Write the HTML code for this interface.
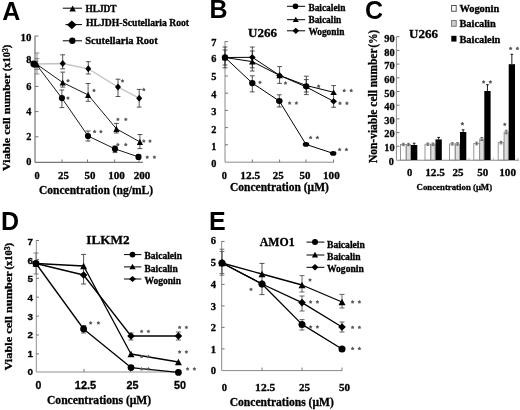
<!DOCTYPE html>
<html><head><meta charset="utf-8"><style>
html,body{margin:0;padding:0;background:#fff;}
svg{display:block;will-change:transform;}
</style></head><body>
<svg width="520" height="410" viewBox="0 0 520 410">
<rect width="520" height="410" fill="#fff"/>
<text x="2.2" y="19.6" font-family='"Liberation Sans", sans-serif' font-size="25" font-weight="bold" text-anchor="start" fill="#000" >A</text>
<line x1="35" y1="35.8" x2="35" y2="162.4" stroke="#767676" stroke-width="1.2"/>
<line x1="35" y1="162.4" x2="143" y2="162.4" stroke="#767676" stroke-width="1.2"/>
<line x1="35" y1="36.0" x2="38.5" y2="36.0" stroke="#767676" stroke-width="1"/>
<line x1="35" y1="61.2" x2="38.5" y2="61.2" stroke="#767676" stroke-width="1"/>
<line x1="35" y1="86.4" x2="38.5" y2="86.4" stroke="#767676" stroke-width="1"/>
<line x1="35" y1="111.6" x2="38.5" y2="111.6" stroke="#767676" stroke-width="1"/>
<line x1="35" y1="136.8" x2="38.5" y2="136.8" stroke="#767676" stroke-width="1"/>
<line x1="62" y1="162.4" x2="62" y2="159.5" stroke="#767676" stroke-width="1"/>
<line x1="87.5" y1="162.4" x2="87.5" y2="159.5" stroke="#767676" stroke-width="1"/>
<line x1="114.6" y1="162.4" x2="114.6" y2="159.5" stroke="#767676" stroke-width="1"/>
<line x1="139" y1="162.4" x2="139" y2="159.5" stroke="#767676" stroke-width="1"/>
<text x="31.5" y="40.8" font-family='"Liberation Serif", serif' font-size="10.3" font-weight="bold" text-anchor="end" fill="#000" stroke="#000" stroke-width="0.3" textLength="10.9" lengthAdjust="spacingAndGlyphs" >10</text>
<text x="31.5" y="63.0" font-family='"Liberation Serif", serif' font-size="10.3" font-weight="bold" text-anchor="end" fill="#000" stroke="#000" stroke-width="0.3" >8</text>
<text x="31.5" y="89.7" font-family='"Liberation Serif", serif' font-size="10.3" font-weight="bold" text-anchor="end" fill="#000" stroke="#000" stroke-width="0.3" >6</text>
<text x="31.5" y="115.3" font-family='"Liberation Serif", serif' font-size="10.3" font-weight="bold" text-anchor="end" fill="#000" stroke="#000" stroke-width="0.3" >4</text>
<text x="31.5" y="140.1" font-family='"Liberation Serif", serif' font-size="10.3" font-weight="bold" text-anchor="end" fill="#000" stroke="#000" stroke-width="0.3" >2</text>
<text x="31.5" y="164.5" font-family='"Liberation Serif", serif' font-size="10.3" font-weight="bold" text-anchor="end" fill="#000" stroke="#000" stroke-width="0.3" >0</text>
<text x="37" y="179" font-family='"Liberation Serif", serif' font-size="10.3" font-weight="bold" text-anchor="middle" fill="#000" stroke="#000" stroke-width="0.3" >0</text>
<text x="63.5" y="179" font-family='"Liberation Serif", serif' font-size="10.3" font-weight="bold" text-anchor="middle" fill="#000" stroke="#000" stroke-width="0.3" textLength="10.9" lengthAdjust="spacingAndGlyphs" >25</text>
<text x="90" y="179" font-family='"Liberation Serif", serif' font-size="10.3" font-weight="bold" text-anchor="middle" fill="#000" stroke="#000" stroke-width="0.3" textLength="10.9" lengthAdjust="spacingAndGlyphs" >50</text>
<text x="116.5" y="179" font-family='"Liberation Serif", serif' font-size="10.3" font-weight="bold" text-anchor="middle" fill="#000" stroke="#000" stroke-width="0.3" textLength="16.65" lengthAdjust="spacingAndGlyphs" >100</text>
<text x="142" y="179" font-family='"Liberation Serif", serif' font-size="10.3" font-weight="bold" text-anchor="middle" fill="#000" stroke="#000" stroke-width="0.3" textLength="16.65" lengthAdjust="spacingAndGlyphs" >200</text>
<text x="39" y="194" font-family='"Liberation Serif", serif' font-size="11.5" font-weight="bold" text-anchor="start" fill="#000" stroke="#000" stroke-width="0.3" >Concentration (ng/mL)</text>
<text x="0" y="0" font-family='"Liberation Serif", serif' font-size="10.2" font-weight="bold" stroke="#000" stroke-width="0.3" textLength="97.5" lengthAdjust="spacingAndGlyphs" transform="translate(9.9 170.9) rotate(-90)">Viable cell number</text>
<text x="0" y="0" font-family='"Liberation Serif", serif' font-size="10.2" font-weight="bold" stroke="#000" stroke-width="0.3" textLength="26.5" lengthAdjust="spacingAndGlyphs" transform="translate(9.9 71.3) rotate(-90)">(x10<tspan font-size="7.4" dy="-2.3">3</tspan><tspan dy="2.3">)</tspan></text>
<line x1="62.8" y1="8.2" x2="82" y2="8.2" stroke="#000" stroke-width="1"/>
<polygon points="69.35,11.6 75.85,11.6 72.6,5.6" fill="#000"/>
<text x="85.4" y="11.5" font-family='"Liberation Serif", serif' font-size="9.4" font-weight="bold" text-anchor="start" fill="#000" stroke="#000" stroke-width="0.3" textLength="31.2" lengthAdjust="spacingAndGlyphs" >HLJDT</text>
<line x1="65.5" y1="24.6" x2="82" y2="24.6" stroke="#000" stroke-width="1"/>
<polygon points="67.0,24.8 71.8,20.4 76.6,24.8 71.8,29.200000000000003" fill="#000"/>
<text x="86" y="26.4" font-family='"Liberation Serif", serif' font-size="9.8" font-weight="bold" text-anchor="start" fill="#000" stroke="#000" stroke-width="0.3" textLength="103" lengthAdjust="spacingAndGlyphs" >HLJDH-Scutellaria Root</text>
<line x1="62.8" y1="40.8" x2="82" y2="40.8" stroke="#000" stroke-width="1"/>
<circle cx="72.3" cy="40.8" r="3.2" fill="#000"/>
<text x="85.2" y="44.2" font-family='"Liberation Serif", serif' font-size="10.5" font-weight="bold" text-anchor="start" fill="#000" stroke="#000" stroke-width="0.3" >Scutellaria Root</text>
<polyline points="37,64 62.7,63.5 88.3,68.8 118,87.1 139.2,98.2" fill="none" stroke="#c4c4c4" stroke-width="1.3" stroke-linejoin="round"/>
<line x1="37" y1="53" x2="37" y2="74" stroke="#777" stroke-width="0.8"/>
<line x1="34.6" y1="53" x2="39.4" y2="53" stroke="#777" stroke-width="0.8"/>
<line x1="34.6" y1="74" x2="39.4" y2="74" stroke="#777" stroke-width="0.8"/>
<line x1="62.7" y1="54.8" x2="62.7" y2="68.8" stroke="#2a2a2a" stroke-width="0.8"/>
<line x1="60.300000000000004" y1="54.8" x2="65.10000000000001" y2="54.8" stroke="#2a2a2a" stroke-width="0.8"/>
<line x1="60.300000000000004" y1="68.8" x2="65.10000000000001" y2="68.8" stroke="#2a2a2a" stroke-width="0.8"/>
<line x1="88.3" y1="61.7" x2="88.3" y2="74" stroke="#2a2a2a" stroke-width="0.8"/>
<line x1="85.89999999999999" y1="61.7" x2="90.7" y2="61.7" stroke="#2a2a2a" stroke-width="0.8"/>
<line x1="85.89999999999999" y1="74" x2="90.7" y2="74" stroke="#2a2a2a" stroke-width="0.8"/>
<line x1="118" y1="79.2" x2="118" y2="96.5" stroke="#2a2a2a" stroke-width="0.8"/>
<line x1="115.6" y1="79.2" x2="120.4" y2="79.2" stroke="#2a2a2a" stroke-width="0.8"/>
<line x1="115.6" y1="96.5" x2="120.4" y2="96.5" stroke="#2a2a2a" stroke-width="0.8"/>
<line x1="139.2" y1="89.4" x2="139.2" y2="107.1" stroke="#2a2a2a" stroke-width="0.8"/>
<line x1="136.79999999999998" y1="89.4" x2="141.6" y2="89.4" stroke="#2a2a2a" stroke-width="0.8"/>
<line x1="136.79999999999998" y1="107.1" x2="141.6" y2="107.1" stroke="#2a2a2a" stroke-width="0.8"/>
<polygon points="59.7,63.5 62.7,60.0 65.7,63.5 62.7,67.0" fill="#000"/>
<polygon points="85.3,68.8 88.3,65.3 91.3,68.8 88.3,72.3" fill="#000"/>
<polygon points="115.0,87.1 118,83.6 121.0,87.1 118,90.6" fill="#000"/>
<polygon points="136.2,98.2 139.2,94.7 142.2,98.2 139.2,101.7" fill="#000"/>
<polyline points="37,64.5 62.7,82.5 88.1,94.9 116.4,128.8 139.9,141.9" fill="none" stroke="#000" stroke-width="0.9" stroke-linejoin="round"/>
<line x1="37" y1="58.5" x2="37" y2="69.5" stroke="#777" stroke-width="0.8"/>
<line x1="34.6" y1="58.5" x2="39.4" y2="58.5" stroke="#777" stroke-width="0.8"/>
<line x1="34.6" y1="69.5" x2="39.4" y2="69.5" stroke="#777" stroke-width="0.8"/>
<line x1="62.7" y1="72.1" x2="62.7" y2="87.1" stroke="#2a2a2a" stroke-width="0.8"/>
<line x1="60.300000000000004" y1="72.1" x2="65.10000000000001" y2="72.1" stroke="#2a2a2a" stroke-width="0.8"/>
<line x1="60.300000000000004" y1="87.1" x2="65.10000000000001" y2="87.1" stroke="#2a2a2a" stroke-width="0.8"/>
<line x1="88.1" y1="83.5" x2="88.1" y2="101.3" stroke="#2a2a2a" stroke-width="0.8"/>
<line x1="85.69999999999999" y1="83.5" x2="90.5" y2="83.5" stroke="#2a2a2a" stroke-width="0.8"/>
<line x1="85.69999999999999" y1="101.3" x2="90.5" y2="101.3" stroke="#2a2a2a" stroke-width="0.8"/>
<line x1="116.4" y1="123.4" x2="116.4" y2="133" stroke="#2a2a2a" stroke-width="0.8"/>
<line x1="114.0" y1="123.4" x2="118.80000000000001" y2="123.4" stroke="#2a2a2a" stroke-width="0.8"/>
<line x1="114.0" y1="133" x2="118.80000000000001" y2="133" stroke="#2a2a2a" stroke-width="0.8"/>
<line x1="139.9" y1="134.5" x2="139.9" y2="148.6" stroke="#2a2a2a" stroke-width="0.8"/>
<line x1="137.5" y1="134.5" x2="142.3" y2="134.5" stroke="#2a2a2a" stroke-width="0.8"/>
<line x1="137.5" y1="148.6" x2="142.3" y2="148.6" stroke="#2a2a2a" stroke-width="0.8"/>
<polygon points="33.9,67.6 40.1,67.6 37,61.4" fill="#000"/>
<polygon points="59.6,85.6 65.8,85.6 62.7,79.4" fill="#000"/>
<polygon points="85.0,98.0 91.19999999999999,98.0 88.1,91.80000000000001" fill="#000"/>
<polygon points="113.30000000000001,131.9 119.5,131.9 116.4,125.70000000000002" fill="#000"/>
<polygon points="136.8,145.0 143.0,145.0 139.9,138.8" fill="#000"/>
<polyline points="36,64 61.9,98.1 88,136 115,148.9 138.5,156.9" fill="none" stroke="#000" stroke-width="0.9" stroke-linejoin="round"/>
<line x1="61.9" y1="90" x2="61.9" y2="107.6" stroke="#2a2a2a" stroke-width="0.8"/>
<line x1="59.5" y1="90" x2="64.3" y2="90" stroke="#2a2a2a" stroke-width="0.8"/>
<line x1="59.5" y1="107.6" x2="64.3" y2="107.6" stroke="#2a2a2a" stroke-width="0.8"/>
<line x1="88" y1="131" x2="88" y2="141" stroke="#2a2a2a" stroke-width="0.8"/>
<line x1="85.6" y1="131" x2="90.4" y2="131" stroke="#2a2a2a" stroke-width="0.8"/>
<line x1="85.6" y1="141" x2="90.4" y2="141" stroke="#2a2a2a" stroke-width="0.8"/>
<line x1="115" y1="146" x2="115" y2="152.6" stroke="#2a2a2a" stroke-width="0.8"/>
<line x1="112.6" y1="146" x2="117.4" y2="146" stroke="#2a2a2a" stroke-width="0.8"/>
<line x1="112.6" y1="152.6" x2="117.4" y2="152.6" stroke="#2a2a2a" stroke-width="0.8"/>
<line x1="138.5" y1="155" x2="138.5" y2="159" stroke="#2a2a2a" stroke-width="0.8"/>
<line x1="136.1" y1="155" x2="140.9" y2="155" stroke="#2a2a2a" stroke-width="0.8"/>
<line x1="136.1" y1="159" x2="140.9" y2="159" stroke="#2a2a2a" stroke-width="0.8"/>
<circle cx="33.8" cy="64" r="3.4" fill="#000"/>
<circle cx="61.9" cy="98.1" r="3.1" fill="#000"/>
<circle cx="88" cy="136" r="3.1" fill="#000"/>
<circle cx="115" cy="148.9" r="3.1" fill="#000"/>
<circle cx="138.5" cy="156.9" r="3.1" fill="#000"/>
<polygon points="122.50,79.00 123.21,80.03 124.40,80.38 123.64,81.37 123.68,82.62 122.50,82.20 121.32,82.62 121.36,81.37 120.60,80.38 121.79,80.03" fill="#5a5a5a"/>
<polygon points="143.80,87.60 144.51,88.63 145.70,88.98 144.94,89.97 144.98,91.22 143.80,90.80 142.62,91.22 142.66,89.97 141.90,88.98 143.09,88.63" fill="#5a5a5a"/>
<polygon points="68.00,78.70 68.71,79.73 69.90,80.08 69.14,81.07 69.18,82.32 68.00,81.90 66.82,82.32 66.86,81.07 66.10,80.08 67.29,79.73" fill="#5a5a5a"/>
<polygon points="94.00,88.50 94.71,89.53 95.90,89.88 95.14,90.87 95.18,92.12 94.00,91.70 92.82,92.12 92.86,90.87 92.10,89.88 93.29,89.53" fill="#5a5a5a"/>
<polygon points="117.90,117.40 118.61,118.43 119.80,118.78 119.04,119.77 119.08,121.02 117.90,120.60 116.72,121.02 116.76,119.77 116.00,118.78 117.19,118.43" fill="#5a5a5a"/>
<polygon points="125.80,117.40 126.51,118.43 127.70,118.78 126.94,119.77 126.98,121.02 125.80,120.60 124.62,121.02 124.66,119.77 123.90,118.78 125.09,118.43" fill="#5a5a5a"/>
<polygon points="143.80,139.10 144.51,140.13 145.70,140.48 144.94,141.47 144.98,142.72 143.80,142.30 142.62,142.72 142.66,141.47 141.90,140.48 143.09,140.13" fill="#5a5a5a"/>
<polygon points="150.00,139.10 150.71,140.13 151.90,140.48 151.14,141.47 151.18,142.72 150.00,142.30 148.82,142.72 148.86,141.47 148.10,140.48 149.29,140.13" fill="#5a5a5a"/>
<polygon points="68.00,96.10 68.71,97.13 69.90,97.48 69.14,98.47 69.18,99.72 68.00,99.30 66.82,99.72 66.86,98.47 66.10,97.48 67.29,97.13" fill="#5a5a5a"/>
<polygon points="94.60,129.60 95.31,130.63 96.50,130.98 95.74,131.97 95.78,133.22 94.60,132.80 93.42,133.22 93.46,131.97 92.70,130.98 93.89,130.63" fill="#5a5a5a"/>
<polygon points="100.90,129.60 101.61,130.63 102.80,130.98 102.04,131.97 102.08,133.22 100.90,132.80 99.72,133.22 99.76,131.97 99.00,130.98 100.19,130.63" fill="#5a5a5a"/>
<polygon points="117.90,142.60 118.61,143.63 119.80,143.98 119.04,144.97 119.08,146.22 117.90,145.80 116.72,146.22 116.76,144.97 116.00,143.98 117.19,143.63" fill="#5a5a5a"/>
<polygon points="125.80,142.60 126.51,143.63 127.70,143.98 126.94,144.97 126.98,146.22 125.80,145.80 124.62,146.22 124.66,144.97 123.90,143.98 125.09,143.63" fill="#5a5a5a"/>
<polygon points="147.20,155.20 147.91,156.23 149.10,156.58 148.34,157.57 148.38,158.82 147.20,158.40 146.02,158.82 146.06,157.57 145.30,156.58 146.49,156.23" fill="#5a5a5a"/>
<polygon points="154.40,155.20 155.11,156.23 156.30,156.58 155.54,157.57 155.58,158.82 154.40,158.40 153.22,158.82 153.26,157.57 152.50,156.58 153.69,156.23" fill="#5a5a5a"/>
<text x="209.5" y="18.4" font-family='"Liberation Sans", sans-serif' font-size="25" font-weight="bold" text-anchor="start" fill="#000" >B</text>
<text x="248" y="37.3" font-family='"Liberation Serif", serif' font-size="13" font-weight="bold" text-anchor="start" fill="#000" stroke="#000" stroke-width="0.3" >U266</text>
<line x1="225" y1="41" x2="225" y2="162.2" stroke="#8a8a8a" stroke-width="1.0"/>
<line x1="225" y1="162.2" x2="334" y2="162.2" stroke="#8a8a8a" stroke-width="1.0"/>
<line x1="225" y1="144.8" x2="228" y2="144.8" stroke="#767676" stroke-width="1"/>
<line x1="225" y1="127.6" x2="228" y2="127.6" stroke="#767676" stroke-width="1"/>
<line x1="225" y1="110.4" x2="228" y2="110.4" stroke="#767676" stroke-width="1"/>
<line x1="225" y1="93.2" x2="228" y2="93.2" stroke="#767676" stroke-width="1"/>
<line x1="225" y1="76.0" x2="228" y2="76.0" stroke="#767676" stroke-width="1"/>
<line x1="225" y1="58.80000000000001" x2="228" y2="58.80000000000001" stroke="#767676" stroke-width="1"/>
<line x1="225" y1="41.60000000000001" x2="228" y2="41.60000000000001" stroke="#767676" stroke-width="1"/>
<line x1="252.4" y1="162.2" x2="252.4" y2="159.5" stroke="#767676" stroke-width="1"/>
<line x1="279.6" y1="162.2" x2="279.6" y2="159.5" stroke="#767676" stroke-width="1"/>
<line x1="306" y1="162.2" x2="306" y2="159.5" stroke="#767676" stroke-width="1"/>
<line x1="333.6" y1="162.2" x2="333.6" y2="159.5" stroke="#767676" stroke-width="1"/>
<text x="216.3" y="45.5" font-family='"Liberation Serif", serif' font-size="10.3" font-weight="bold" text-anchor="end" fill="#000" stroke="#000" stroke-width="0.3" >7</text>
<text x="216.3" y="62.2" font-family='"Liberation Serif", serif' font-size="10.3" font-weight="bold" text-anchor="end" fill="#000" stroke="#000" stroke-width="0.3" >6</text>
<text x="216.3" y="80.0" font-family='"Liberation Serif", serif' font-size="10.3" font-weight="bold" text-anchor="end" fill="#000" stroke="#000" stroke-width="0.3" >5</text>
<text x="216.3" y="97.5" font-family='"Liberation Serif", serif' font-size="10.3" font-weight="bold" text-anchor="end" fill="#000" stroke="#000" stroke-width="0.3" >4</text>
<text x="216.3" y="115.0" font-family='"Liberation Serif", serif' font-size="10.3" font-weight="bold" text-anchor="end" fill="#000" stroke="#000" stroke-width="0.3" >3</text>
<text x="216.3" y="133.0" font-family='"Liberation Serif", serif' font-size="10.3" font-weight="bold" text-anchor="end" fill="#000" stroke="#000" stroke-width="0.3" >2</text>
<text x="216.3" y="150.0" font-family='"Liberation Serif", serif' font-size="10.3" font-weight="bold" text-anchor="end" fill="#000" stroke="#000" stroke-width="0.3" >1</text>
<text x="216.3" y="167.0" font-family='"Liberation Serif", serif' font-size="10.3" font-weight="bold" text-anchor="end" fill="#000" stroke="#000" stroke-width="0.3" >0</text>
<text x="224.4" y="178.6" font-family='"Liberation Serif", serif' font-size="10.3" font-weight="bold" text-anchor="middle" fill="#000" stroke="#000" stroke-width="0.3" >0</text>
<text x="250.3" y="178.6" font-family='"Liberation Serif", serif' font-size="10.3" font-weight="bold" text-anchor="middle" fill="#000" stroke="#000" stroke-width="0.3" textLength="19.83" lengthAdjust="spacingAndGlyphs" >12.5</text>
<text x="278.3" y="178.6" font-family='"Liberation Serif", serif' font-size="10.3" font-weight="bold" text-anchor="middle" fill="#000" stroke="#000" stroke-width="0.3" textLength="10.9" lengthAdjust="spacingAndGlyphs" >25</text>
<text x="304.9" y="178.6" font-family='"Liberation Serif", serif' font-size="10.3" font-weight="bold" text-anchor="middle" fill="#000" stroke="#000" stroke-width="0.3" textLength="10.9" lengthAdjust="spacingAndGlyphs" >50</text>
<text x="331.4" y="178.6" font-family='"Liberation Serif", serif' font-size="10.3" font-weight="bold" text-anchor="middle" fill="#000" stroke="#000" stroke-width="0.3" textLength="16.65" lengthAdjust="spacingAndGlyphs" >100</text>
<text x="230" y="191.3" font-family='"Liberation Serif", serif' font-size="11.5" font-weight="bold" text-anchor="start" fill="#000" stroke="#000" stroke-width="0.3" >Concentration (μM)</text>
<line x1="287" y1="6.3" x2="305.2" y2="6.3" stroke="#000" stroke-width="1"/>
<circle cx="295.5" cy="6.3" r="2.8" fill="#000"/>
<text x="308.4" y="10.8" font-family='"Liberation Serif", serif' font-size="9.4" font-weight="bold" text-anchor="start" fill="#000" stroke="#000" stroke-width="0.3" >Baicalein</text>
<line x1="287" y1="19.7" x2="305.2" y2="19.7" stroke="#000" stroke-width="1"/>
<polygon points="292.8,22.049999999999997 298.8,22.049999999999997 295.8,16.75" fill="#000"/>
<text x="308.4" y="23.3" font-family='"Liberation Serif", serif' font-size="9.4" font-weight="bold" text-anchor="start" fill="#000" stroke="#000" stroke-width="0.3" >Baicalin</text>
<line x1="287" y1="30.8" x2="305.2" y2="30.8" stroke="#000" stroke-width="1"/>
<polygon points="292.5,30.8 295.8,27.7 299.1,30.8 295.8,33.9" fill="#000"/>
<text x="308.4" y="34.8" font-family='"Liberation Serif", serif' font-size="9.4" font-weight="bold" text-anchor="start" fill="#000" stroke="#000" stroke-width="0.3" >Wogonin</text>
<polyline points="225,57.5 252.3,57.3 279.6,75.4 306.3,87 333.6,101.3" fill="none" stroke="#000" stroke-width="1.0" stroke-linejoin="round"/>
<polyline points="225,57.5 252.3,61.6 279.6,75.4 306.3,85.5 333.6,92.3" fill="none" stroke="#000" stroke-width="1.0" stroke-linejoin="round"/>
<polyline points="225,57.5 252.3,83.1 279.3,101 306,144.4 333.2,153.4" fill="none" stroke="#000" stroke-width="1.0" stroke-linejoin="round"/>
<line x1="225" y1="47" x2="225" y2="67.8" stroke="#2a2a2a" stroke-width="0.8"/>
<line x1="222.6" y1="47" x2="227.4" y2="47" stroke="#2a2a2a" stroke-width="0.8"/>
<line x1="222.6" y1="67.8" x2="227.4" y2="67.8" stroke="#2a2a2a" stroke-width="0.8"/>
<line x1="225" y1="50" x2="225" y2="65" stroke="#2a2a2a" stroke-width="0.8"/>
<line x1="222.6" y1="50" x2="227.4" y2="50" stroke="#2a2a2a" stroke-width="0.8"/>
<line x1="222.6" y1="65" x2="227.4" y2="65" stroke="#2a2a2a" stroke-width="0.8"/>
<line x1="252.3" y1="47" x2="252.3" y2="67.8" stroke="#2a2a2a" stroke-width="0.8"/>
<line x1="249.9" y1="47" x2="254.70000000000002" y2="47" stroke="#2a2a2a" stroke-width="0.8"/>
<line x1="249.9" y1="67.8" x2="254.70000000000002" y2="67.8" stroke="#2a2a2a" stroke-width="0.8"/>
<line x1="252.3" y1="51" x2="252.3" y2="71" stroke="#2a2a2a" stroke-width="0.8"/>
<line x1="249.9" y1="51" x2="254.70000000000002" y2="51" stroke="#2a2a2a" stroke-width="0.8"/>
<line x1="249.9" y1="71" x2="254.70000000000002" y2="71" stroke="#2a2a2a" stroke-width="0.8"/>
<line x1="252.3" y1="75.8" x2="252.3" y2="91.9" stroke="#2a2a2a" stroke-width="0.8"/>
<line x1="249.9" y1="75.8" x2="254.70000000000002" y2="75.8" stroke="#2a2a2a" stroke-width="0.8"/>
<line x1="249.9" y1="91.9" x2="254.70000000000002" y2="91.9" stroke="#2a2a2a" stroke-width="0.8"/>
<line x1="279.6" y1="66.6" x2="279.6" y2="83.4" stroke="#2a2a2a" stroke-width="0.8"/>
<line x1="277.20000000000005" y1="66.6" x2="282.0" y2="66.6" stroke="#2a2a2a" stroke-width="0.8"/>
<line x1="277.20000000000005" y1="83.4" x2="282.0" y2="83.4" stroke="#2a2a2a" stroke-width="0.8"/>
<line x1="279.3" y1="94.8" x2="279.3" y2="107" stroke="#2a2a2a" stroke-width="0.8"/>
<line x1="276.90000000000003" y1="94.8" x2="281.7" y2="94.8" stroke="#2a2a2a" stroke-width="0.8"/>
<line x1="276.90000000000003" y1="107" x2="281.7" y2="107" stroke="#2a2a2a" stroke-width="0.8"/>
<line x1="306.3" y1="76.2" x2="306.3" y2="94.6" stroke="#2a2a2a" stroke-width="0.8"/>
<line x1="303.90000000000003" y1="76.2" x2="308.7" y2="76.2" stroke="#2a2a2a" stroke-width="0.8"/>
<line x1="303.90000000000003" y1="94.6" x2="308.7" y2="94.6" stroke="#2a2a2a" stroke-width="0.8"/>
<line x1="306.3" y1="79.6" x2="306.3" y2="92" stroke="#2a2a2a" stroke-width="0.8"/>
<line x1="303.90000000000003" y1="79.6" x2="308.7" y2="79.6" stroke="#2a2a2a" stroke-width="0.8"/>
<line x1="303.90000000000003" y1="92" x2="308.7" y2="92" stroke="#2a2a2a" stroke-width="0.8"/>
<line x1="333.6" y1="85.6" x2="333.6" y2="107.3" stroke="#2a2a2a" stroke-width="0.8"/>
<line x1="331.20000000000005" y1="85.6" x2="336.0" y2="85.6" stroke="#2a2a2a" stroke-width="0.8"/>
<line x1="331.20000000000005" y1="107.3" x2="336.0" y2="107.3" stroke="#2a2a2a" stroke-width="0.8"/>
<polygon points="221.6,57.5 225,54.4 228.4,57.5 225,60.6" fill="#000"/>
<polygon points="248.9,57.3 252.3,54.199999999999996 255.70000000000002,57.3 252.3,60.4" fill="#000"/>
<polygon points="276.20000000000005,75.4 279.6,72.30000000000001 283.0,75.4 279.6,78.5" fill="#000"/>
<polygon points="302.90000000000003,87 306.3,83.9 309.7,87 306.3,90.1" fill="#000"/>
<polygon points="330.20000000000005,101.3 333.6,98.2 337.0,101.3 333.6,104.39999999999999" fill="#000"/>
<polygon points="221.7,60.3 228.3,60.3 225,54.7" fill="#000"/>
<polygon points="249.0,64.4 255.60000000000002,64.4 252.3,58.800000000000004" fill="#000"/>
<polygon points="276.3,78.2 282.90000000000003,78.2 279.6,72.60000000000001" fill="#000"/>
<polygon points="303.0,88.3 309.6,88.3 306.3,82.7" fill="#000"/>
<polygon points="330.3,95.1 336.90000000000003,95.1 333.6,89.5" fill="#000"/>
<circle cx="225" cy="57.5" r="3.2" fill="#000"/>
<circle cx="252.3" cy="83.1" r="3.2" fill="#000"/>
<ellipse cx="279.3" cy="101" rx="3.3" ry="2.9" fill="#000"/>
<ellipse cx="306" cy="144.4" rx="3.2" ry="2.4" fill="#000"/>
<ellipse cx="333.2" cy="153.4" rx="3.2" ry="2.4" fill="#000"/>
<circle cx="306.3" cy="86.3" r="3.0" fill="#000"/>
<polygon points="260.00,80.40 260.71,81.43 261.90,81.78 261.14,82.77 261.18,84.02 260.00,83.60 258.82,84.02 258.86,82.77 258.10,81.78 259.29,81.43" fill="#5a5a5a"/>
<polygon points="289.60,101.10 290.31,102.13 291.50,102.48 290.74,103.47 290.78,104.72 289.60,104.30 288.42,104.72 288.46,103.47 287.70,102.48 288.89,102.13" fill="#5a5a5a"/>
<polygon points="296.40,101.10 297.11,102.13 298.30,102.48 297.54,103.47 297.58,104.72 296.40,104.30 295.22,104.72 295.26,103.47 294.50,102.48 295.69,102.13" fill="#5a5a5a"/>
<polygon points="310.60,135.60 311.31,136.63 312.50,136.98 311.74,137.97 311.78,139.22 310.60,138.80 309.42,139.22 309.46,137.97 308.70,136.98 309.89,136.63" fill="#5a5a5a"/>
<polygon points="317.40,135.60 318.11,136.63 319.30,136.98 318.54,137.97 318.58,139.22 317.40,138.80 316.22,139.22 316.26,137.97 315.50,136.98 316.69,136.63" fill="#5a5a5a"/>
<polygon points="339.60,147.60 340.31,148.63 341.50,148.98 340.74,149.97 340.78,151.22 339.60,150.80 338.42,151.22 338.46,149.97 337.70,148.98 338.89,148.63" fill="#5a5a5a"/>
<polygon points="346.40,147.60 347.11,148.63 348.30,148.98 347.54,149.97 347.58,151.22 346.40,150.80 345.22,151.22 345.26,149.97 344.50,148.98 345.69,148.63" fill="#5a5a5a"/>
<polygon points="285.50,81.10 286.21,82.13 287.40,82.48 286.64,83.47 286.68,84.72 285.50,84.30 284.32,84.72 284.36,83.47 283.60,82.48 284.79,82.13" fill="#5a5a5a"/>
<polygon points="318.60,84.30 319.31,85.33 320.50,85.68 319.74,86.67 319.78,87.92 318.60,87.50 317.42,87.92 317.46,86.67 316.70,85.68 317.89,85.33" fill="#5a5a5a"/>
<polygon points="344.20,88.60 344.91,89.63 346.10,89.98 345.34,90.97 345.38,92.22 344.20,91.80 343.02,92.22 343.06,90.97 342.30,89.98 343.49,89.63" fill="#5a5a5a"/>
<polygon points="351.20,88.60 351.91,89.63 353.10,89.98 352.34,90.97 352.38,92.22 351.20,91.80 350.02,92.22 350.06,90.97 349.30,89.98 350.49,89.63" fill="#5a5a5a"/>
<polygon points="340.00,101.30 340.71,102.33 341.90,102.68 341.14,103.67 341.18,104.92 340.00,104.50 338.82,104.92 338.86,103.67 338.10,102.68 339.29,102.33" fill="#5a5a5a"/>
<polygon points="346.90,101.30 347.61,102.33 348.80,102.68 348.04,103.67 348.08,104.92 346.90,104.50 345.72,104.92 345.76,103.67 345.00,102.68 346.19,102.33" fill="#5a5a5a"/>
<text x="365" y="18.7" font-family='"Liberation Sans", sans-serif' font-size="25" font-weight="bold" text-anchor="start" fill="#000" >C</text>
<text x="409" y="38.3" font-family='"Liberation Serif", serif' font-size="13" font-weight="bold" text-anchor="start" fill="#000" stroke="#000" stroke-width="0.3" >U266</text>
<line x1="396.4" y1="36.6" x2="396.4" y2="160.2" stroke="#8a8a8a" stroke-width="1.0"/>
<line x1="396.5" y1="160.2" x2="519" y2="160.2" stroke="#8c8c8c" stroke-width="1.1"/>
<line x1="396.5" y1="146.3" x2="399.5" y2="146.3" stroke="#767676" stroke-width="1"/>
<line x1="396.5" y1="132.6" x2="399.5" y2="132.6" stroke="#767676" stroke-width="1"/>
<line x1="396.5" y1="118.9" x2="399.5" y2="118.9" stroke="#767676" stroke-width="1"/>
<line x1="396.5" y1="105.19999999999999" x2="399.5" y2="105.19999999999999" stroke="#767676" stroke-width="1"/>
<line x1="396.5" y1="91.5" x2="399.5" y2="91.5" stroke="#767676" stroke-width="1"/>
<line x1="396.5" y1="77.8" x2="399.5" y2="77.8" stroke="#767676" stroke-width="1"/>
<line x1="396.5" y1="64.1" x2="399.5" y2="64.1" stroke="#767676" stroke-width="1"/>
<line x1="396.5" y1="50.39999999999999" x2="399.5" y2="50.39999999999999" stroke="#767676" stroke-width="1"/>
<line x1="396.5" y1="36.69999999999999" x2="399.5" y2="36.69999999999999" stroke="#767676" stroke-width="1"/>
<text x="394.6" y="42.099999999999994" font-family='"Liberation Serif", serif' font-size="10.2" font-weight="bold" text-anchor="end" fill="#000" stroke="#000" stroke-width="0.3" textLength="10.4" lengthAdjust="spacingAndGlyphs" >90</text>
<text x="394.6" y="55.69999999999999" font-family='"Liberation Serif", serif' font-size="10.2" font-weight="bold" text-anchor="end" fill="#000" stroke="#000" stroke-width="0.3" textLength="10.4" lengthAdjust="spacingAndGlyphs" >80</text>
<text x="394.6" y="69.3" font-family='"Liberation Serif", serif' font-size="10.2" font-weight="bold" text-anchor="end" fill="#000" stroke="#000" stroke-width="0.3" textLength="10.4" lengthAdjust="spacingAndGlyphs" >70</text>
<text x="394.6" y="82.89999999999999" font-family='"Liberation Serif", serif' font-size="10.2" font-weight="bold" text-anchor="end" fill="#000" stroke="#000" stroke-width="0.3" textLength="10.4" lengthAdjust="spacingAndGlyphs" >60</text>
<text x="394.6" y="96.5" font-family='"Liberation Serif", serif' font-size="10.2" font-weight="bold" text-anchor="end" fill="#000" stroke="#000" stroke-width="0.3" textLength="10.4" lengthAdjust="spacingAndGlyphs" >50</text>
<text x="394.6" y="110.1" font-family='"Liberation Serif", serif' font-size="10.2" font-weight="bold" text-anchor="end" fill="#000" stroke="#000" stroke-width="0.3" textLength="10.4" lengthAdjust="spacingAndGlyphs" >40</text>
<text x="394.6" y="123.69999999999999" font-family='"Liberation Serif", serif' font-size="10.2" font-weight="bold" text-anchor="end" fill="#000" stroke="#000" stroke-width="0.3" textLength="10.4" lengthAdjust="spacingAndGlyphs" >30</text>
<text x="394.6" y="137.3" font-family='"Liberation Serif", serif' font-size="10.2" font-weight="bold" text-anchor="end" fill="#000" stroke="#000" stroke-width="0.3" textLength="10.4" lengthAdjust="spacingAndGlyphs" >20</text>
<text x="394.6" y="150.9" font-family='"Liberation Serif", serif' font-size="10.2" font-weight="bold" text-anchor="end" fill="#000" stroke="#000" stroke-width="0.3" textLength="10.4" lengthAdjust="spacingAndGlyphs" >10</text>
<text x="393.8" y="164.5" font-family='"Liberation Serif", serif' font-size="10.2" font-weight="bold" text-anchor="end" fill="#000" stroke="#000" stroke-width="0.3" >0</text>
<line x1="469" y1="160.2" x2="469" y2="158" stroke="#aaa" stroke-width="0.8"/>
<line x1="493.4" y1="160.2" x2="493.4" y2="158" stroke="#aaa" stroke-width="0.8"/>
<line x1="518" y1="160.2" x2="518" y2="158" stroke="#aaa" stroke-width="0.8"/>
<rect x="400.5" y="144.5" width="5.6" height="15.5" fill="#fff" stroke="#8c8c8c" stroke-width="0.9"/>
<rect x="406.4" y="144.5" width="4.2" height="15.5" fill="#dedede" stroke="#8c8c8c" stroke-width="0.9"/>
<rect x="411" y="145" width="6.3" height="15" fill="#000"/>
<line x1="403.3" y1="143.3" x2="403.3" y2="145.7" stroke="#505050" stroke-width="0.8"/>
<line x1="401.90000000000003" y1="143.3" x2="404.7" y2="143.3" stroke="#505050" stroke-width="0.8"/>
<line x1="401.90000000000003" y1="145.7" x2="404.7" y2="145.7" stroke="#505050" stroke-width="0.8"/>
<line x1="408.5" y1="143.3" x2="408.5" y2="145.7" stroke="#505050" stroke-width="0.8"/>
<line x1="407.1" y1="143.3" x2="409.9" y2="143.3" stroke="#505050" stroke-width="0.8"/>
<line x1="407.1" y1="145.7" x2="409.9" y2="145.7" stroke="#505050" stroke-width="0.8"/>
<line x1="414.15" y1="143.2" x2="414.15" y2="145" stroke="#000" stroke-width="0.9"/>
<line x1="412.8" y1="143.2" x2="415.5" y2="143.2" stroke="#000" stroke-width="0.9"/>
<rect x="425.0" y="144.2" width="5.6" height="15.800000000000011" fill="#fff" stroke="#8c8c8c" stroke-width="0.9"/>
<rect x="430.9" y="144.2" width="4.2" height="15.800000000000011" fill="#dedede" stroke="#8c8c8c" stroke-width="0.9"/>
<rect x="435.5" y="139.4" width="6.3" height="20.599999999999994" fill="#000"/>
<line x1="427.8" y1="143.0" x2="427.8" y2="145.39999999999998" stroke="#505050" stroke-width="0.8"/>
<line x1="426.40000000000003" y1="143.0" x2="429.2" y2="143.0" stroke="#505050" stroke-width="0.8"/>
<line x1="426.40000000000003" y1="145.39999999999998" x2="429.2" y2="145.39999999999998" stroke="#505050" stroke-width="0.8"/>
<line x1="433.0" y1="143.0" x2="433.0" y2="145.39999999999998" stroke="#505050" stroke-width="0.8"/>
<line x1="431.6" y1="143.0" x2="434.4" y2="143.0" stroke="#505050" stroke-width="0.8"/>
<line x1="431.6" y1="145.39999999999998" x2="434.4" y2="145.39999999999998" stroke="#505050" stroke-width="0.8"/>
<line x1="438.65" y1="137.4" x2="438.65" y2="139.4" stroke="#000" stroke-width="0.9"/>
<line x1="437.3" y1="137.4" x2="440.0" y2="137.4" stroke="#000" stroke-width="0.9"/>
<rect x="449.5" y="143.9" width="5.6" height="16.099999999999994" fill="#fff" stroke="#8c8c8c" stroke-width="0.9"/>
<rect x="455.4" y="143.9" width="4.2" height="16.099999999999994" fill="#dedede" stroke="#8c8c8c" stroke-width="0.9"/>
<rect x="460" y="132" width="6.3" height="28" fill="#000"/>
<line x1="452.3" y1="142.70000000000002" x2="452.3" y2="145.1" stroke="#505050" stroke-width="0.8"/>
<line x1="450.90000000000003" y1="142.70000000000002" x2="453.7" y2="142.70000000000002" stroke="#505050" stroke-width="0.8"/>
<line x1="450.90000000000003" y1="145.1" x2="453.7" y2="145.1" stroke="#505050" stroke-width="0.8"/>
<line x1="457.5" y1="142.70000000000002" x2="457.5" y2="145.1" stroke="#505050" stroke-width="0.8"/>
<line x1="456.1" y1="142.70000000000002" x2="458.9" y2="142.70000000000002" stroke="#505050" stroke-width="0.8"/>
<line x1="456.1" y1="145.1" x2="458.9" y2="145.1" stroke="#505050" stroke-width="0.8"/>
<line x1="463.15" y1="129.8" x2="463.15" y2="132" stroke="#000" stroke-width="0.9"/>
<line x1="461.8" y1="129.8" x2="464.5" y2="129.8" stroke="#000" stroke-width="0.9"/>
<rect x="473.8" y="143.5" width="5.6" height="16.5" fill="#fff" stroke="#8c8c8c" stroke-width="0.9"/>
<rect x="479.7" y="139" width="4.2" height="21" fill="#dedede" stroke="#8c8c8c" stroke-width="0.9"/>
<rect x="484.3" y="91" width="6.3" height="69" fill="#000"/>
<line x1="476.6" y1="142.2" x2="476.6" y2="144.8" stroke="#505050" stroke-width="0.8"/>
<line x1="475.20000000000005" y1="142.2" x2="478.0" y2="142.2" stroke="#505050" stroke-width="0.8"/>
<line x1="475.20000000000005" y1="144.8" x2="478.0" y2="144.8" stroke="#505050" stroke-width="0.8"/>
<line x1="481.8" y1="137.5" x2="481.8" y2="140.5" stroke="#505050" stroke-width="0.8"/>
<line x1="480.40000000000003" y1="137.5" x2="483.2" y2="137.5" stroke="#505050" stroke-width="0.8"/>
<line x1="480.40000000000003" y1="140.5" x2="483.2" y2="140.5" stroke="#505050" stroke-width="0.8"/>
<line x1="487.45" y1="84.7" x2="487.45" y2="91" stroke="#000" stroke-width="0.9"/>
<line x1="486.1" y1="84.7" x2="488.8" y2="84.7" stroke="#000" stroke-width="0.9"/>
<rect x="498.2" y="142.6" width="5.6" height="17.400000000000006" fill="#fff" stroke="#8c8c8c" stroke-width="0.9"/>
<rect x="504.09999999999997" y="132" width="4.2" height="28" fill="#dedede" stroke="#8c8c8c" stroke-width="0.9"/>
<rect x="508.7" y="64.2" width="6.3" height="95.8" fill="#000"/>
<line x1="501.0" y1="141.29999999999998" x2="501.0" y2="143.9" stroke="#505050" stroke-width="0.8"/>
<line x1="499.6" y1="141.29999999999998" x2="502.4" y2="141.29999999999998" stroke="#505050" stroke-width="0.8"/>
<line x1="499.6" y1="143.9" x2="502.4" y2="143.9" stroke="#505050" stroke-width="0.8"/>
<line x1="506.2" y1="130.2" x2="506.2" y2="133.8" stroke="#505050" stroke-width="0.8"/>
<line x1="504.8" y1="130.2" x2="507.59999999999997" y2="130.2" stroke="#505050" stroke-width="0.8"/>
<line x1="504.8" y1="133.8" x2="507.59999999999997" y2="133.8" stroke="#505050" stroke-width="0.8"/>
<line x1="511.84999999999997" y1="54.300000000000004" x2="511.84999999999997" y2="64.2" stroke="#000" stroke-width="0.9"/>
<line x1="510.5" y1="54.300000000000004" x2="513.2" y2="54.300000000000004" stroke="#000" stroke-width="0.9"/>
<polygon points="462.40,121.80 463.11,122.83 464.30,123.18 463.54,124.17 463.58,125.42 462.40,125.00 461.22,125.42 461.26,124.17 460.50,123.18 461.69,122.83" fill="#5a5a5a"/>
<polygon points="483.60,80.00 484.31,81.03 485.50,81.38 484.74,82.37 484.78,83.62 483.60,83.20 482.42,83.62 482.46,82.37 481.70,81.38 482.89,81.03" fill="#5a5a5a"/>
<polygon points="490.40,80.00 491.11,81.03 492.30,81.38 491.54,82.37 491.58,83.62 490.40,83.20 489.22,83.62 489.26,82.37 488.50,81.38 489.69,81.03" fill="#5a5a5a"/>
<polygon points="510.60,46.50 511.31,47.53 512.50,47.88 511.74,48.87 511.78,50.12 510.60,49.70 509.42,50.12 509.46,48.87 508.70,47.88 509.89,47.53" fill="#5a5a5a"/>
<polygon points="517.40,46.50 518.11,47.53 519.30,47.88 518.54,48.87 518.58,50.12 517.40,49.70 516.22,50.12 516.26,48.87 515.50,47.88 516.69,47.53" fill="#5a5a5a"/>
<polygon points="504.80,122.40 505.51,123.43 506.70,123.78 505.94,124.77 505.98,126.02 504.80,125.60 503.62,126.02 503.66,124.77 502.90,123.78 504.09,123.43" fill="#5a5a5a"/>
<text x="409.7" y="176.3" font-family='"Liberation Serif", serif' font-size="10.6" font-weight="bold" text-anchor="middle" fill="#000" stroke="#000" stroke-width="0.3" >0</text>
<text x="435" y="176.3" font-family='"Liberation Serif", serif' font-size="10.6" font-weight="bold" text-anchor="middle" fill="#000" stroke="#000" stroke-width="0.3" textLength="19.75" lengthAdjust="spacingAndGlyphs" >12.5</text>
<text x="458" y="176.3" font-family='"Liberation Serif", serif' font-size="10.6" font-weight="bold" text-anchor="middle" fill="#000" stroke="#000" stroke-width="0.3" textLength="11.0" lengthAdjust="spacingAndGlyphs" >25</text>
<text x="482.8" y="176.3" font-family='"Liberation Serif", serif' font-size="10.6" font-weight="bold" text-anchor="middle" fill="#000" stroke="#000" stroke-width="0.3" textLength="11.0" lengthAdjust="spacingAndGlyphs" >50</text>
<text x="507.6" y="176.3" font-family='"Liberation Serif", serif' font-size="10.6" font-weight="bold" text-anchor="middle" fill="#000" stroke="#000" stroke-width="0.3" textLength="16.7" lengthAdjust="spacingAndGlyphs" >100</text>
<text x="416.6" y="190.4" font-family='"Liberation Serif", serif' font-size="9.2" font-weight="bold" text-anchor="start" fill="#000" stroke="#000" stroke-width="0.3" textLength="75.5" lengthAdjust="spacingAndGlyphs" >Concentration (μM)</text>
<text x="0" y="0" font-family='"Liberation Serif", serif' font-size="12" font-weight="bold" stroke="#000" stroke-width="0.3" textLength="114.5" lengthAdjust="spacingAndGlyphs" transform="translate(376.8 163) rotate(-90)">Non-viable cell number</text>
<text x="0" y="0" font-family='"Liberation Serif", serif' font-size="11.5" font-weight="bold" stroke="#000" stroke-width="0.3" textLength="17.5" lengthAdjust="spacingAndGlyphs" transform="translate(376.8 47.5) rotate(-90)">(%)</text>
<rect x="451.6" y="5.5" width="4.6" height="5.8" fill="#fff" stroke="#555" stroke-width="1"/>
<rect x="451.6" y="20.5" width="4.6" height="5.8" fill="#d0d0d0" stroke="#777" stroke-width="1"/>
<rect x="451.3" y="35.8" width="5.2" height="5.8" fill="#000"/>
<text x="459.4" y="11.6" font-family='"Liberation Serif", serif' font-size="10.4" font-weight="bold" text-anchor="start" fill="#000" stroke="#000" stroke-width="0.3" >Wogonin</text>
<text x="459.4" y="27.2" font-family='"Liberation Serif", serif' font-size="10.4" font-weight="bold" text-anchor="start" fill="#000" stroke="#000" stroke-width="0.3" >Baicalin</text>
<text x="459.4" y="42.6" font-family='"Liberation Serif", serif' font-size="10.4" font-weight="bold" text-anchor="start" fill="#000" stroke="#000" stroke-width="0.3" >Baicalein</text>
<text x="1" y="229.6" font-family='"Liberation Sans", sans-serif' font-size="25" font-weight="bold" text-anchor="start" fill="#000" >D</text>
<text x="86.3" y="243.6" font-family='"Liberation Serif", serif' font-size="13.2" font-weight="bold" text-anchor="start" fill="#000" stroke="#000" stroke-width="0.3" >ILKM2</text>
<line x1="36.3" y1="240" x2="36.3" y2="372" stroke="#8f8f8f" stroke-width="1.0"/>
<line x1="36.3" y1="372" x2="178.4" y2="372" stroke="#8f8f8f" stroke-width="1.0"/>
<line x1="36" y1="353.90000000000003" x2="39" y2="353.90000000000003" stroke="#767676" stroke-width="1"/>
<line x1="36" y1="335.0" x2="39" y2="335.0" stroke="#767676" stroke-width="1"/>
<line x1="36" y1="316.1" x2="39" y2="316.1" stroke="#767676" stroke-width="1"/>
<line x1="36" y1="297.20000000000005" x2="39" y2="297.20000000000005" stroke="#767676" stroke-width="1"/>
<line x1="36" y1="278.3" x2="39" y2="278.3" stroke="#767676" stroke-width="1"/>
<line x1="36" y1="259.40000000000003" x2="39" y2="259.40000000000003" stroke="#767676" stroke-width="1"/>
<line x1="36" y1="240.50000000000003" x2="39" y2="240.50000000000003" stroke="#767676" stroke-width="1"/>
<line x1="84" y1="372" x2="84" y2="369" stroke="#767676" stroke-width="1"/>
<line x1="130.5" y1="372" x2="130.5" y2="369" stroke="#767676" stroke-width="1"/>
<line x1="178.4" y1="372" x2="178.4" y2="369" stroke="#767676" stroke-width="1"/>
<text x="33.0" y="245.3" font-family='"Liberation Sans", sans-serif' font-size="9.9" font-weight="bold" text-anchor="end" fill="#000" stroke="#000" stroke-width="0.3" >7</text>
<text x="33.0" y="263.9" font-family='"Liberation Sans", sans-serif' font-size="9.9" font-weight="bold" text-anchor="end" fill="#000" stroke="#000" stroke-width="0.3" >6</text>
<text x="33.0" y="281.9" font-family='"Liberation Sans", sans-serif' font-size="9.9" font-weight="bold" text-anchor="end" fill="#000" stroke="#000" stroke-width="0.3" >5</text>
<text x="33.0" y="300.6" font-family='"Liberation Sans", sans-serif' font-size="9.9" font-weight="bold" text-anchor="end" fill="#000" stroke="#000" stroke-width="0.3" >4</text>
<text x="33.0" y="319.8" font-family='"Liberation Sans", sans-serif' font-size="9.9" font-weight="bold" text-anchor="end" fill="#000" stroke="#000" stroke-width="0.3" >3</text>
<text x="33.0" y="338.4" font-family='"Liberation Sans", sans-serif' font-size="9.9" font-weight="bold" text-anchor="end" fill="#000" stroke="#000" stroke-width="0.3" >2</text>
<text x="33.0" y="357.1" font-family='"Liberation Sans", sans-serif' font-size="9.9" font-weight="bold" text-anchor="end" fill="#000" stroke="#000" stroke-width="0.3" >1</text>
<text x="33.0" y="375.3" font-family='"Liberation Sans", sans-serif' font-size="9.9" font-weight="bold" text-anchor="end" fill="#000" stroke="#000" stroke-width="0.3" >0</text>
<text x="38.3" y="388.8" font-family='"Liberation Sans", sans-serif' font-size="10.5" font-weight="bold" text-anchor="middle" fill="#000" stroke="#000" stroke-width="0.3" >0</text>
<text x="85.5" y="388.8" font-family='"Liberation Sans", sans-serif' font-size="10.5" font-weight="bold" text-anchor="middle" fill="#000" stroke="#000" stroke-width="0.3" textLength="21.33" lengthAdjust="spacingAndGlyphs" >12.5</text>
<text x="132.5" y="388.8" font-family='"Liberation Sans", sans-serif' font-size="10.5" font-weight="bold" text-anchor="middle" fill="#000" stroke="#000" stroke-width="0.3" textLength="11.98" lengthAdjust="spacingAndGlyphs" >25</text>
<text x="180" y="388.8" font-family='"Liberation Sans", sans-serif' font-size="10.5" font-weight="bold" text-anchor="middle" fill="#000" stroke="#000" stroke-width="0.3" textLength="11.98" lengthAdjust="spacingAndGlyphs" >50</text>
<text x="47" y="403.9" font-family='"Liberation Serif", serif' font-size="11.6" font-weight="bold" text-anchor="start" fill="#000" stroke="#000" stroke-width="0.3" >Concentrations (μM)</text>
<text x="0" y="0" font-family='"Liberation Serif", serif' font-size="10.0" font-weight="bold" stroke="#000" stroke-width="0.3" textLength="99.3" lengthAdjust="spacingAndGlyphs" transform="translate(12.0 370.6) rotate(-90)">Viable cell number</text>
<text x="0" y="0" font-family='"Liberation Serif", serif' font-size="10.0" font-weight="bold" stroke="#000" stroke-width="0.3" textLength="26.4" lengthAdjust="spacingAndGlyphs" transform="translate(12.0 269.4) rotate(-90)">(x10<tspan font-size="7.2" dy="-2.2">3</tspan><tspan dy="2.2">)</tspan></text>
<line x1="124" y1="254.6" x2="141.3" y2="254.6" stroke="#000" stroke-width="1"/>
<circle cx="132.5" cy="254.6" r="2.9" fill="#000"/>
<text x="144.5" y="259.3" font-family='"Liberation Serif", serif' font-size="9.5" font-weight="bold" text-anchor="start" fill="#000" stroke="#000" stroke-width="0.3" >Baicalein</text>
<line x1="124" y1="266.9" x2="141.3" y2="266.9" stroke="#000" stroke-width="1"/>
<polygon points="129.35,269.2 135.65,269.2 132.5,263.8" fill="#000"/>
<text x="144.5" y="271.6" font-family='"Liberation Serif", serif' font-size="9.5" font-weight="bold" text-anchor="start" fill="#000" stroke="#000" stroke-width="0.3" >Baicalin</text>
<line x1="124" y1="279" x2="141.3" y2="279" stroke="#000" stroke-width="1"/>
<polygon points="129.0,279 132.5,275.9 136.0,279 132.5,282.1" fill="#000"/>
<text x="144.5" y="283.9" font-family='"Liberation Serif", serif' font-size="9.5" font-weight="bold" text-anchor="start" fill="#000" stroke="#000" stroke-width="0.3" >Wogonin</text>
<polyline points="36,263.5 83.6,329 131,367.6 178.4,372.4" fill="none" stroke="#000" stroke-width="1.3" stroke-linejoin="round"/>
<polyline points="36,263.5 83.6,266 131,354 178.4,362" fill="none" stroke="#000" stroke-width="1.3" stroke-linejoin="round"/>
<polyline points="36,263.5 83.6,275 131,336 178.4,336" fill="none" stroke="#000" stroke-width="1.3" stroke-linejoin="round"/>
<line x1="36" y1="253" x2="36" y2="274" stroke="#606060" stroke-width="0.8"/>
<line x1="33.5" y1="253" x2="38.5" y2="253" stroke="#606060" stroke-width="0.8"/>
<line x1="33.5" y1="274" x2="38.5" y2="274" stroke="#606060" stroke-width="0.8"/>
<line x1="83.6" y1="254.4" x2="83.6" y2="284" stroke="#404040" stroke-width="0.9"/>
<line x1="81.1" y1="254.4" x2="86.1" y2="254.4" stroke="#404040" stroke-width="0.9"/>
<line x1="81.1" y1="284" x2="86.1" y2="284" stroke="#404040" stroke-width="0.9"/>
<line x1="83.6" y1="325.5" x2="83.6" y2="333" stroke="#404040" stroke-width="0.8"/>
<line x1="81.1" y1="325.5" x2="86.1" y2="325.5" stroke="#404040" stroke-width="0.8"/>
<line x1="81.1" y1="333" x2="86.1" y2="333" stroke="#404040" stroke-width="0.8"/>
<line x1="131" y1="333" x2="131" y2="340" stroke="#404040" stroke-width="0.8"/>
<line x1="128.5" y1="333" x2="133.5" y2="333" stroke="#404040" stroke-width="0.8"/>
<line x1="128.5" y1="340" x2="133.5" y2="340" stroke="#404040" stroke-width="0.8"/>
<line x1="178.4" y1="332" x2="178.4" y2="340" stroke="#404040" stroke-width="0.8"/>
<line x1="175.9" y1="332" x2="180.9" y2="332" stroke="#404040" stroke-width="0.8"/>
<line x1="175.9" y1="340" x2="180.9" y2="340" stroke="#404040" stroke-width="0.8"/>
<circle cx="36" cy="263.5" r="3.4" fill="#000"/>
<circle cx="83.6" cy="329" r="3.4" fill="#000"/>
<circle cx="131" cy="367.6" r="3.4" fill="#000"/>
<circle cx="178.4" cy="372.4" r="3.4" fill="#000"/>
<polygon points="32.5,266.75 39.5,266.75 36,260.25" fill="#000"/>
<polygon points="80.1,269.25 87.1,269.25 83.6,262.75" fill="#000"/>
<polygon points="127.5,357.25 134.5,357.25 131,350.75" fill="#000"/>
<polygon points="174.9,365.25 181.9,365.25 178.4,358.75" fill="#000"/>
<polygon points="32.2,263.5 36,259.7 39.8,263.5 36,267.3" fill="#000"/>
<polygon points="79.8,275 83.6,271.2 87.39999999999999,275 83.6,278.8" fill="#000"/>
<polygon points="127.2,336 131,332.2 134.8,336 131,339.8" fill="#000"/>
<polygon points="174.6,336 178.4,332.2 182.20000000000002,336 178.4,339.8" fill="#000"/>
<polygon points="90.60,321.00 91.31,322.03 92.50,322.38 91.74,323.37 91.78,324.62 90.60,324.20 89.42,324.62 89.46,323.37 88.70,322.38 89.89,322.03" fill="#5a5a5a"/>
<polygon points="98.40,321.00 99.11,322.03 100.30,322.38 99.54,323.37 99.58,324.62 98.40,324.20 97.22,324.62 97.26,323.37 96.50,322.38 97.69,322.03" fill="#5a5a5a"/>
<polygon points="141.60,329.40 142.31,330.43 143.50,330.78 142.74,331.77 142.78,333.02 141.60,332.60 140.42,333.02 140.46,331.77 139.70,330.78 140.89,330.43" fill="#5a5a5a"/>
<polygon points="148.40,329.40 149.11,330.43 150.30,330.78 149.54,331.77 149.58,333.02 148.40,332.60 147.22,333.02 147.26,331.77 146.50,330.78 147.69,330.43" fill="#5a5a5a"/>
<polygon points="179.60,325.40 180.31,326.43 181.50,326.78 180.74,327.77 180.78,329.02 179.60,328.60 178.42,329.02 178.46,327.77 177.70,326.78 178.89,326.43" fill="#5a5a5a"/>
<polygon points="186.40,325.40 187.11,326.43 188.30,326.78 187.54,327.77 187.58,329.02 186.40,328.60 185.22,329.02 185.26,327.77 184.50,326.78 185.69,326.43" fill="#5a5a5a"/>
<polygon points="141.60,354.60 142.31,355.63 143.50,355.98 142.74,356.97 142.78,358.22 141.60,357.80 140.42,358.22 140.46,356.97 139.70,355.98 140.89,355.63" fill="#5a5a5a"/>
<polygon points="148.40,354.60 149.11,355.63 150.30,355.98 149.54,356.97 149.58,358.22 148.40,357.80 147.22,358.22 147.26,356.97 146.50,355.98 147.69,355.63" fill="#5a5a5a"/>
<polygon points="179.60,350.00 180.31,351.03 181.50,351.38 180.74,352.37 180.78,353.62 179.60,353.20 178.42,353.62 178.46,352.37 177.70,351.38 178.89,351.03" fill="#5a5a5a"/>
<polygon points="186.40,350.00 187.11,351.03 188.30,351.38 187.54,352.37 187.58,353.62 186.40,353.20 185.22,353.62 185.26,352.37 184.50,351.38 185.69,351.03" fill="#5a5a5a"/>
<polygon points="141.60,367.00 142.31,368.03 143.50,368.38 142.74,369.37 142.78,370.62 141.60,370.20 140.42,370.62 140.46,369.37 139.70,368.38 140.89,368.03" fill="#5a5a5a"/>
<polygon points="148.40,367.00 149.11,368.03 150.30,368.38 149.54,369.37 149.58,370.62 148.40,370.20 147.22,370.62 147.26,369.37 146.50,368.38 147.69,368.03" fill="#5a5a5a"/>
<polygon points="187.60,367.00 188.31,368.03 189.50,368.38 188.74,369.37 188.78,370.62 187.60,370.20 186.42,370.62 186.46,369.37 185.70,368.38 186.89,368.03" fill="#5a5a5a"/>
<polygon points="194.40,367.00 195.11,368.03 196.30,368.38 195.54,369.37 195.58,370.62 194.40,370.20 193.22,370.62 193.26,369.37 192.50,368.38 193.69,368.03" fill="#5a5a5a"/>
<text x="209" y="230.3" font-family='"Liberation Sans", sans-serif' font-size="25" font-weight="bold" text-anchor="start" fill="#000" >E</text>
<text x="259.8" y="246.3" font-family='"Liberation Serif", serif' font-size="11.8" font-weight="bold" text-anchor="start" fill="#000" stroke="#000" stroke-width="0.3" >AMO1</text>
<line x1="221.7" y1="241" x2="221.7" y2="370.6" stroke="#8a8a8a" stroke-width="1.0"/>
<line x1="221.7" y1="370.6" x2="342" y2="370.6" stroke="#8a8a8a" stroke-width="1.0"/>
<line x1="221.6" y1="348.9" x2="224.6" y2="348.9" stroke="#767676" stroke-width="1"/>
<line x1="221.6" y1="327.4" x2="224.6" y2="327.4" stroke="#767676" stroke-width="1"/>
<line x1="221.6" y1="305.9" x2="224.6" y2="305.9" stroke="#767676" stroke-width="1"/>
<line x1="221.6" y1="284.4" x2="224.6" y2="284.4" stroke="#767676" stroke-width="1"/>
<line x1="221.6" y1="262.9" x2="224.6" y2="262.9" stroke="#767676" stroke-width="1"/>
<line x1="221.6" y1="241.39999999999998" x2="224.6" y2="241.39999999999998" stroke="#767676" stroke-width="1"/>
<line x1="262" y1="370.6" x2="262" y2="367.6" stroke="#767676" stroke-width="1"/>
<line x1="302" y1="370.6" x2="302" y2="367.6" stroke="#767676" stroke-width="1"/>
<line x1="342" y1="370.6" x2="342" y2="367.6" stroke="#767676" stroke-width="1"/>
<text x="216" y="244.1" font-family='"Liberation Serif", serif' font-size="10.5" font-weight="bold" text-anchor="end" fill="#000" stroke="#000" stroke-width="0.3" >6</text>
<text x="216" y="266.1" font-family='"Liberation Serif", serif' font-size="10.5" font-weight="bold" text-anchor="end" fill="#000" stroke="#000" stroke-width="0.3" >5</text>
<text x="216" y="287.6" font-family='"Liberation Serif", serif' font-size="10.5" font-weight="bold" text-anchor="end" fill="#000" stroke="#000" stroke-width="0.3" >4</text>
<text x="216" y="309.6" font-family='"Liberation Serif", serif' font-size="10.5" font-weight="bold" text-anchor="end" fill="#000" stroke="#000" stroke-width="0.3" >3</text>
<text x="216" y="330.6" font-family='"Liberation Serif", serif' font-size="10.5" font-weight="bold" text-anchor="end" fill="#000" stroke="#000" stroke-width="0.3" >2</text>
<text x="216" y="352.6" font-family='"Liberation Serif", serif' font-size="10.5" font-weight="bold" text-anchor="end" fill="#000" stroke="#000" stroke-width="0.3" >1</text>
<text x="216" y="373.6" font-family='"Liberation Serif", serif' font-size="10.5" font-weight="bold" text-anchor="end" fill="#000" stroke="#000" stroke-width="0.3" >0</text>
<text x="224.4" y="391.2" font-family='"Liberation Serif", serif' font-size="10.5" font-weight="bold" text-anchor="middle" fill="#000" stroke="#000" stroke-width="0.3" >0</text>
<text x="265.2" y="391.2" font-family='"Liberation Serif", serif' font-size="10.5" font-weight="bold" text-anchor="middle" fill="#000" stroke="#000" stroke-width="0.3" textLength="20.18" lengthAdjust="spacingAndGlyphs" >12.5</text>
<text x="304.6" y="391.2" font-family='"Liberation Serif", serif' font-size="10.5" font-weight="bold" text-anchor="middle" fill="#000" stroke="#000" stroke-width="0.3" textLength="11.1" lengthAdjust="spacingAndGlyphs" >25</text>
<text x="344.6" y="391.2" font-family='"Liberation Serif", serif' font-size="10.5" font-weight="bold" text-anchor="middle" fill="#000" stroke="#000" stroke-width="0.3" textLength="11.1" lengthAdjust="spacingAndGlyphs" >50</text>
<text x="229.7" y="406.2" font-family='"Liberation Serif", serif' font-size="11.6" font-weight="bold" text-anchor="start" fill="#000" stroke="#000" stroke-width="0.3" >Concentrations (μM)</text>
<line x1="306.5" y1="242.1" x2="324.4" y2="242.1" stroke="#000" stroke-width="1"/>
<circle cx="315" cy="242.1" r="3" fill="#000"/>
<text x="327" y="247.6" font-family='"Liberation Serif", serif' font-size="9.6" font-weight="bold" text-anchor="start" fill="#000" stroke="#000" stroke-width="0.3" >Baicalein</text>
<line x1="306.5" y1="255" x2="324.4" y2="255" stroke="#000" stroke-width="1"/>
<polygon points="311.9,257.4 318.1,257.4 315,251.79999999999998" fill="#000"/>
<text x="327" y="259.8" font-family='"Liberation Serif", serif' font-size="9.6" font-weight="bold" text-anchor="start" fill="#000" stroke="#000" stroke-width="0.3" >Baicalin</text>
<line x1="306.5" y1="267.3" x2="324.4" y2="267.3" stroke="#000" stroke-width="1"/>
<polygon points="311.6,267.3 315,264.1 318.4,267.3 315,270.5" fill="#000"/>
<text x="327" y="272.3" font-family='"Liberation Serif", serif' font-size="9.6" font-weight="bold" text-anchor="start" fill="#000" stroke="#000" stroke-width="0.3" >Wogonin</text>
<polyline points="222,263 262,284 302,324.4 342,349" fill="none" stroke="#000" stroke-width="1.3" stroke-linejoin="round"/>
<polyline points="222,263 262,274 302,285 342,302" fill="none" stroke="#000" stroke-width="1.3" stroke-linejoin="round"/>
<polyline points="222,263 262,284 302,302.6 342,327" fill="none" stroke="#000" stroke-width="1.3" stroke-linejoin="round"/>
<line x1="222" y1="249.2" x2="222" y2="275.2" stroke="#555" stroke-width="0.8"/>
<line x1="219.6" y1="249.2" x2="224.4" y2="249.2" stroke="#555" stroke-width="0.8"/>
<line x1="219.6" y1="275.2" x2="224.4" y2="275.2" stroke="#555" stroke-width="0.8"/>
<line x1="222" y1="251.5" x2="222" y2="273.5" stroke="#555" stroke-width="0.8"/>
<line x1="219.6" y1="251.5" x2="224.4" y2="251.5" stroke="#555" stroke-width="0.8"/>
<line x1="219.6" y1="273.5" x2="224.4" y2="273.5" stroke="#555" stroke-width="0.8"/>
<line x1="262" y1="263.4" x2="262" y2="294.6" stroke="#404040" stroke-width="0.9"/>
<line x1="259.5" y1="263.4" x2="264.5" y2="263.4" stroke="#404040" stroke-width="0.9"/>
<line x1="259.5" y1="294.6" x2="264.5" y2="294.6" stroke="#404040" stroke-width="0.9"/>
<line x1="302" y1="275.6" x2="302" y2="292" stroke="#404040" stroke-width="0.8"/>
<line x1="299.5" y1="275.6" x2="304.5" y2="275.6" stroke="#404040" stroke-width="0.8"/>
<line x1="299.5" y1="292" x2="304.5" y2="292" stroke="#404040" stroke-width="0.8"/>
<line x1="302" y1="296" x2="302" y2="311" stroke="#404040" stroke-width="0.8"/>
<line x1="299.5" y1="296" x2="304.5" y2="296" stroke="#404040" stroke-width="0.8"/>
<line x1="299.5" y1="311" x2="304.5" y2="311" stroke="#404040" stroke-width="0.8"/>
<line x1="302" y1="319.6" x2="302" y2="330" stroke="#404040" stroke-width="0.8"/>
<line x1="299.5" y1="319.6" x2="304.5" y2="319.6" stroke="#404040" stroke-width="0.8"/>
<line x1="299.5" y1="330" x2="304.5" y2="330" stroke="#404040" stroke-width="0.8"/>
<line x1="342" y1="294.4" x2="342" y2="308" stroke="#404040" stroke-width="0.8"/>
<line x1="339.5" y1="294.4" x2="344.5" y2="294.4" stroke="#404040" stroke-width="0.8"/>
<line x1="339.5" y1="308" x2="344.5" y2="308" stroke="#404040" stroke-width="0.8"/>
<line x1="342" y1="322" x2="342" y2="332" stroke="#404040" stroke-width="0.8"/>
<line x1="339.5" y1="322" x2="344.5" y2="322" stroke="#404040" stroke-width="0.8"/>
<line x1="339.5" y1="332" x2="344.5" y2="332" stroke="#404040" stroke-width="0.8"/>
<circle cx="222" cy="263" r="3.5" fill="#000"/>
<circle cx="262" cy="284" r="3.5" fill="#000"/>
<circle cx="302" cy="324.4" r="3.5" fill="#000"/>
<circle cx="342" cy="349" r="3.5" fill="#000"/>
<polygon points="218.5,266.25 225.5,266.25 222,259.75" fill="#000"/>
<polygon points="258.5,277.25 265.5,277.25 262,270.75" fill="#000"/>
<polygon points="298.5,288.25 305.5,288.25 302,281.75" fill="#000"/>
<polygon points="338.5,305.25 345.5,305.25 342,298.75" fill="#000"/>
<polygon points="218.2,263 222,259.2 225.8,263 222,266.8" fill="#000"/>
<polygon points="258.2,284 262,280.2 265.8,284 262,287.8" fill="#000"/>
<polygon points="298.2,302.6 302,298.8 305.8,302.6 302,306.40000000000003" fill="#000"/>
<polygon points="338.2,327 342,323.2 345.8,327 342,330.8" fill="#000"/>
<polygon points="251.00,287.40 251.71,288.43 252.90,288.78 252.14,289.77 252.18,291.02 251.00,290.60 249.82,291.02 249.86,289.77 249.10,288.78 250.29,288.43" fill="#5a5a5a"/>
<polygon points="310.00,278.00 310.71,279.03 311.90,279.38 311.14,280.37 311.18,281.62 310.00,281.20 308.82,281.62 308.86,280.37 308.10,279.38 309.29,279.03" fill="#5a5a5a"/>
<polygon points="310.60,300.00 311.31,301.03 312.50,301.38 311.74,302.37 311.78,303.62 310.60,303.20 309.42,303.62 309.46,302.37 308.70,301.38 309.89,301.03" fill="#5a5a5a"/>
<polygon points="317.40,300.00 318.11,301.03 319.30,301.38 318.54,302.37 318.58,303.62 317.40,303.20 316.22,303.62 316.26,302.37 315.50,301.38 316.69,301.03" fill="#5a5a5a"/>
<polygon points="310.60,325.00 311.31,326.03 312.50,326.38 311.74,327.37 311.78,328.62 310.60,328.20 309.42,328.62 309.46,327.37 308.70,326.38 309.89,326.03" fill="#5a5a5a"/>
<polygon points="317.40,325.00 318.11,326.03 319.30,326.38 318.54,327.37 318.58,328.62 317.40,328.20 316.22,328.62 316.26,327.37 315.50,326.38 316.69,326.03" fill="#5a5a5a"/>
<polygon points="352.60,300.00 353.31,301.03 354.50,301.38 353.74,302.37 353.78,303.62 352.60,303.20 351.42,303.62 351.46,302.37 350.70,301.38 351.89,301.03" fill="#5a5a5a"/>
<polygon points="359.40,300.00 360.11,301.03 361.30,301.38 360.54,302.37 360.58,303.62 359.40,303.20 358.22,303.62 358.26,302.37 357.50,301.38 358.69,301.03" fill="#5a5a5a"/>
<polygon points="352.60,325.40 353.31,326.43 354.50,326.78 353.74,327.77 353.78,329.02 352.60,328.60 351.42,329.02 351.46,327.77 350.70,326.78 351.89,326.43" fill="#5a5a5a"/>
<polygon points="359.40,325.40 360.11,326.43 361.30,326.78 360.54,327.77 360.58,329.02 359.40,328.60 358.22,329.02 358.26,327.77 357.50,326.78 358.69,326.43" fill="#5a5a5a"/>
<polygon points="352.60,346.60 353.31,347.63 354.50,347.98 353.74,348.97 353.78,350.22 352.60,349.80 351.42,350.22 351.46,348.97 350.70,347.98 351.89,347.63" fill="#5a5a5a"/>
<polygon points="359.40,346.60 360.11,347.63 361.30,347.98 360.54,348.97 360.58,350.22 359.40,349.80 358.22,350.22 358.26,348.97 357.50,347.98 358.69,347.63" fill="#5a5a5a"/>
</svg>
</body></html>
